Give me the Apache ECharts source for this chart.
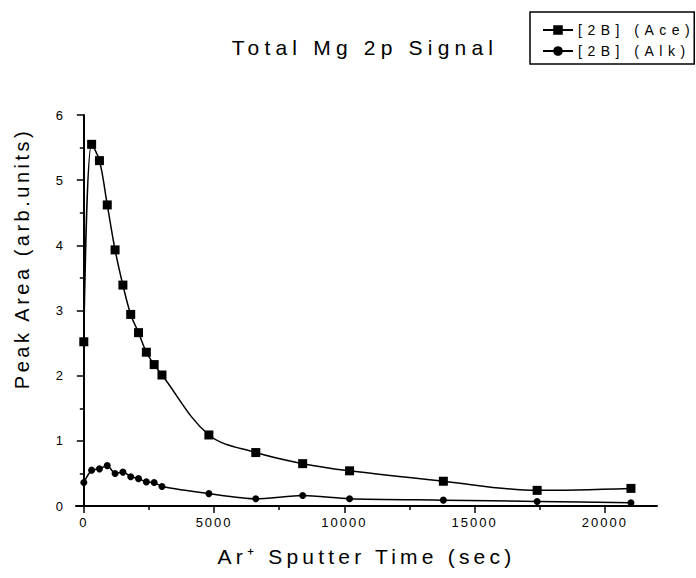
<!DOCTYPE html>
<html>
<head>
<meta charset="utf-8">
<script src="https://cdn.jsdelivr.net/npm/echarts@6/dist/echarts.min.js"></script>
<style>
  html, body { margin: 0; padding: 0; background: #fff; }
  #mg_signal { width: 696px; height: 578px; }
</style>
</head>
<body>
<div id="mg_signal"></div>
<script>
// sputter time (sec) and peak areas
const timeSec = [0, 300, 600, 900, 1200, 1500, 1800, 2100, 2400, 2700, 3000, 4800, 6600, 8400, 10200, 13800, 17400, 21000];
const aceArea = [2.52, 5.55, 5.30, 4.62, 3.93, 3.39, 2.94, 2.66, 2.36, 2.17, 2.01, 1.09, 0.82, 0.65, 0.54, 0.38, 0.24, 0.27];
const alkArea = [0.36, 0.55, 0.57, 0.62, 0.50, 0.52, 0.45, 0.42, 0.37, 0.36, 0.30, 0.19, 0.11, 0.16, 0.11, 0.09, 0.07, 0.05];

const seriesNames = ["[2B] (Ace)", "[2B] (Alk)"];
const xMajorTicks = [0, 5000, 10000, 15000, 20000];
const xMinorTicks = [2500, 7500, 12500, 17500];

const titleText = "Total Mg 2p Signal";
const xName = "Ar\u207A Sputter Time (sec)";
const yName = "Peak Area (arb.units)";

const FONT = "Liberation Sans, Arial, sans-serif";

function pairs(xs, ys) {
  return xs.map(function (x, i) { return [x, ys[i]]; });
}

const option = {
  animation: false,
  backgroundColor: "#fff",
  title: {
    text: titleText,
    left: 360,
    top: 32,
    textAlign: "center",
    textStyle: { fontFamily: FONT, fontSize: 21, fontWeight: "normal", color: "#000" }
  },
  legend: {
    orient: "vertical",
    left: 530,
    top: 12,
    padding: [11, 54, 6, 12],
    itemGap: 7,
    itemWidth: 30,
    itemHeight: 12,
    borderColor: "#000",
    borderWidth: 1.5,
    borderRadius: 0,
    textStyle: { fontFamily: FONT, fontSize: 14, color: "#000", lineHeight: 14 },
    data: seriesNames
  },
  grid: {
    left: 76,
    right: 39,
    top: 115,
    bottom: 72,
    containLabel: false,
    outerBoundsMode: "none"
  },
  xAxis: [
    {
      type: "value",
      min: -300,
      max: 22000,
      position: "bottom",
      name: xName,
      nameLocation: "middle",
      nameGap: 40,
      nameTextStyle: { fontFamily: FONT, fontSize: 21, color: "#000" },
      axisLine: { lineStyle: { color: "#000", width: 2 } },
      axisTick: { customValues: xMajorTicks, length: 7, lineStyle: { color: "#000", width: 1.5 } },
      axisLabel: {
        customValues: xMajorTicks,
        formatter: function (v) { return String(v); },
        fontFamily: FONT, fontSize: 13, color: "#000", margin: 10
      },
      splitLine: { show: false }
    },
    {
      type: "value",
      min: -300,
      max: 22000,
      position: "bottom",
      offset: 0,
      axisLine: { show: false },
      axisTick: { customValues: xMinorTicks, length: 4, lineStyle: { color: "#000", width: 1.5 } },
      axisLabel: { show: false },
      splitLine: { show: false }
    }
  ],
  yAxis: {
    type: "value",
    min: 0,
    max: 6,
    interval: 1,
    name: yName,
    nameLocation: "middle",
    nameGap: 44,
    nameTextStyle: { fontFamily: FONT, fontSize: 20, color: "#000", padding: [0, 0, 0, 104] },
    axisLine: { show: true, lineStyle: { color: "#000", width: 2 } },
    axisTick: { show: true, length: 7, lineStyle: { color: "#000", width: 1.5 } },
    minorTick: { show: true, splitNumber: 2, length: 4, lineStyle: { color: "#000", width: 1.5 } },
    axisLabel: { fontFamily: FONT, fontSize: 13, color: "#000", margin: 11 },
    splitLine: { show: false }
  },
  series: [
    {
      name: seriesNames[0],
      type: "line",
      xAxisIndex: 0,
      data: pairs(timeSec, aceArea),
      smooth: 0.35,
      symbol: "rect",
      symbolSize: 9,
      itemStyle: { color: "#000" },
      lineStyle: { color: "#000", width: 1.5 }
    },
    {
      name: seriesNames[1],
      type: "line",
      xAxisIndex: 0,
      data: pairs(timeSec, alkArea),
      smooth: 0.25,
      symbol: "circle",
      symbolSize: 7,
      itemStyle: { color: "#000" },
      lineStyle: { color: "#000", width: 1.5 }
    }
  ]
};

const dom = document.getElementById("mg_signal");
const chart = echarts.init(dom, null, { renderer: "svg" });
chart.setOption(option);

// the original export uses wide letter spacing
function spaceText() {
  dom.querySelectorAll("text").forEach(function (t) {
    const s = t.textContent;
    let ls = 2;
    if (s === titleText) ls = 5.2;
    else if (s === xName) ls = 4.2;
    else if (s === yName) ls = 3.5;
    else if (seriesNames.indexOf(s) >= 0) ls = 5.5;
    t.setAttribute("letter-spacing", ls);
  });
}
spaceText();
chart.on("finished", spaceText);
</script>
</body>
</html>
